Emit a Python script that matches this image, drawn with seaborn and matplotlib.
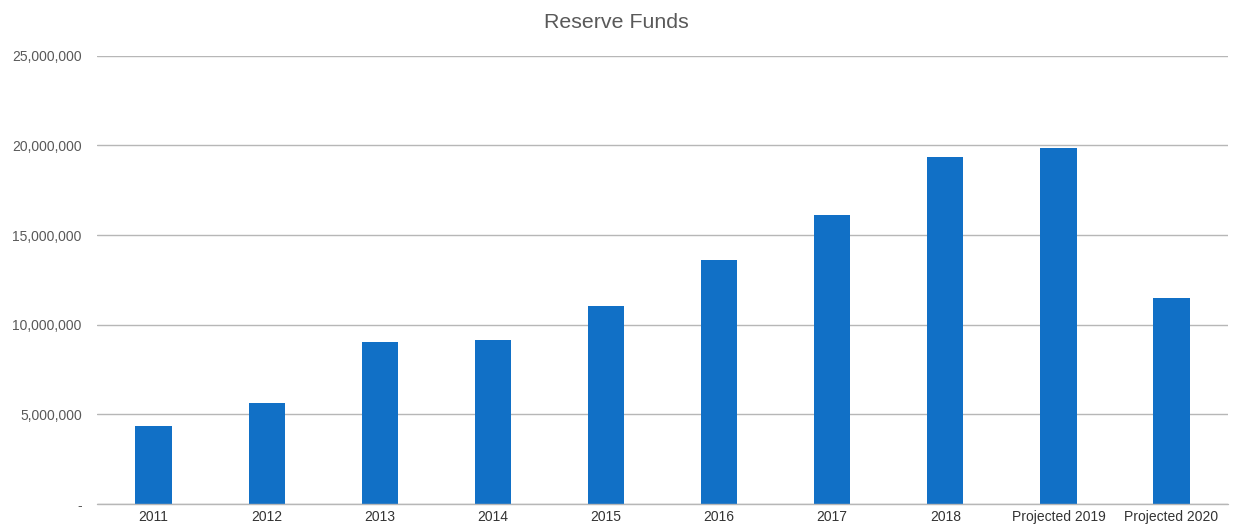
"""Reserve Funds bar chart."""

import matplotlib

matplotlib.use("Agg")
import matplotlib.pyplot as plt
import pandas as pd
import seaborn as sns
from matplotlib.ticker import FuncFormatter

YEARS = ["2011", "2012", "2013", "2014", "2015", "2016", "2017", "2018",
         "Projected 2019", "Projected 2020"]
RESERVES = [4_340_000, 5_620_000, 9_020_000, 9_130_000, 11_020_000,
            13_590_000, 16_150_000, 19_380_000, 19_850_000, 11_470_000]
Y_TICKS = [0, 5_000_000, 10_000_000, 15_000_000, 20_000_000, 25_000_000]

BAR_COLOR = "#1170c6"
TEXT_COLOR = "#595959"
GRID_COLOR = "#b7b7b7"


def fmt_money(v, _pos):
    return "-" if v == 0 else f"{int(v):,}"


def main() -> None:
    sns.set_style("white")
    plt.rcParams["font.family"] = ["Liberation Sans", "DejaVu Sans"]

    df = pd.DataFrame({"year": YEARS, "reserve": RESERVES})

    fig = plt.figure(figsize=(12.33, 5.27), dpi=100)
    ax = fig.add_axes([0.0787, 0.0436, 0.9173, 0.8504])

    sns.barplot(data=df, x="year", y="reserve", color=BAR_COLOR,
                saturation=1, width=0.32, linewidth=0, ax=ax, zorder=3)

    ax.set_ylim(0, 25_000_000)
    ax.set_xlim(-0.5, len(YEARS) - 0.5)
    ax.set_yticks(Y_TICKS)
    ax.yaxis.set_major_formatter(FuncFormatter(fmt_money))
    ax.grid(axis="y", color=GRID_COLOR, linewidth=1, zorder=0)
    ax.grid(axis="x", visible=False)
    ax.axhline(0, color=GRID_COLOR, linewidth=1, clip_on=False, zorder=4)
    for side in ["top", "right", "left", "bottom"]:
        ax.spines[side].set_visible(False)

    ax.tick_params(axis="both", length=0, labelsize=10, labelcolor=TEXT_COLOR)
    ax.tick_params(axis="y", pad=11)
    ax.tick_params(axis="x", pad=4)
    for lbl in ax.get_xticklabels():
        lbl.set_color("#333333")
    ax.set_xlabel("")
    ax.set_ylabel("")

    fig.text(0.5, 1 - 22 / 527, "Reserve Funds", ha="center", va="center",
             fontsize=15.4, color=TEXT_COLOR)

    fig.savefig("out.png", dpi=100)
    plt.close(fig)


if __name__ == "__main__":
    main()
